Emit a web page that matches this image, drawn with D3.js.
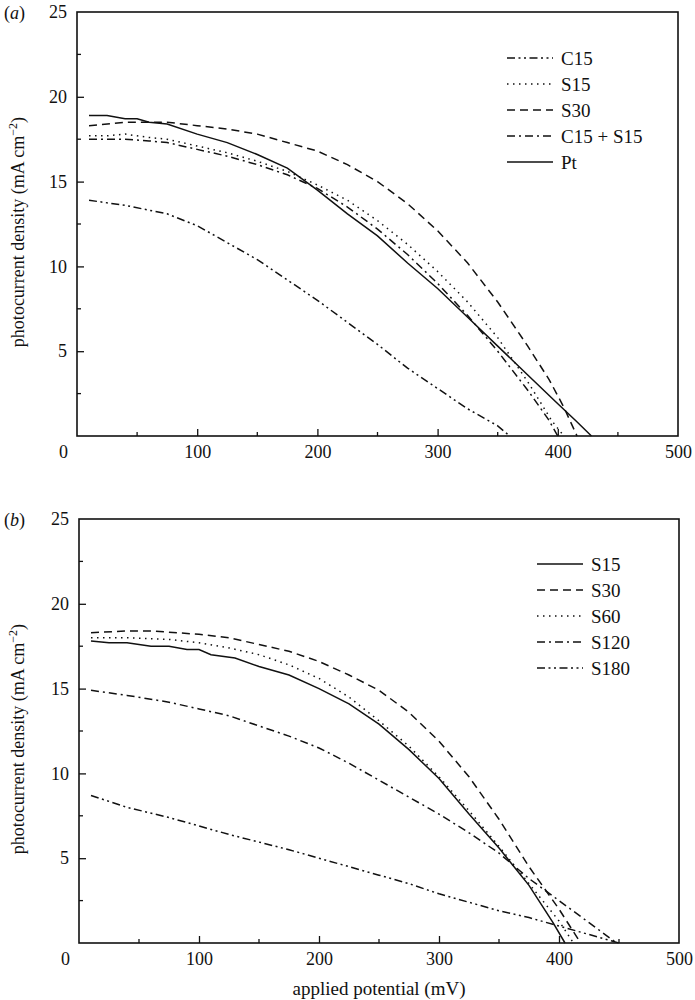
<!DOCTYPE html>
<html><head><meta charset="utf-8">
<script src="https://cdn.jsdelivr.net/npm/d3@7"></script>
<style>body{margin:0;background:#fff}svg{display:block}svg text{font-family:"Liberation Serif","Times New Roman",Times,serif !important;fill:#111}</style>
</head><body><svg id="c" width="695" height="1000" style="font-family:'Liberation Serif',serif"></svg>
<script>
// ---- data ----
const xTicks = [0, 100, 200, 300, 400, 500];
const yTicks = [5, 10, 15, 20, 25];
const namesA = ["C15", "S15", "S30", "C15 + S15", "Pt"];
const C15_x = [10, 40, 75, 100, 125, 150, 175, 200, 225, 250, 275, 300, 325, 350, 360];
const C15_y = [13.9, 13.6, 13.1, 12.4, 11.4, 10.4, 9.2, 8.0, 6.7, 5.4, 4.0, 2.8, 1.6, 0.6, 0];
const S15a_x = [10, 25, 40, 60, 75, 100, 125, 150, 175, 200, 225, 250, 275, 300, 325, 350, 375, 395, 405];
const S15a_y = [17.7, 17.7, 17.8, 17.6, 17.5, 17.1, 16.7, 16.2, 15.6, 14.8, 13.9, 12.7, 11.3, 9.7, 7.9, 5.8, 3.2, 0.9, 0];
const S30a_x = [10, 40, 75, 100, 125, 150, 175, 200, 225, 250, 275, 300, 325, 350, 375, 393, 405, 416];
const S30a_y = [18.3, 18.5, 18.5, 18.3, 18.1, 17.8, 17.3, 16.8, 16.0, 15.0, 13.7, 12.1, 10.2, 7.9, 5.3, 3.3, 1.7, 0];
const CS_x = [10, 25, 40, 60, 75, 100, 125, 150, 175, 200, 225, 250, 275, 300, 325, 350, 375, 392, 400];
const CS_y = [17.5, 17.5, 17.5, 17.4, 17.3, 16.9, 16.5, 16.0, 15.4, 14.6, 13.5, 12.2, 10.7, 9.0, 7.1, 5.0, 2.7, 1.0, 0];
const Pt_x = [10, 25, 40, 50, 60, 75, 100, 125, 150, 175, 200, 225, 250, 275, 300, 325, 350, 375, 400, 415, 428];
const Pt_y = [18.9, 18.9, 18.7, 18.7, 18.5, 18.4, 17.8, 17.3, 16.6, 15.8, 14.5, 13.1, 11.8, 10.2, 8.7, 7.0, 5.3, 3.6, 1.9, 0.9, 0];

const namesB = ["S15", "S30", "S60", "S120", "S180"];
const S15b_x = [10, 25, 40, 60, 75, 90, 100, 110, 130, 150, 175, 200, 225, 250, 275, 300, 325, 350, 375, 395, 405];
const S15b_y = [17.8, 17.7, 17.7, 17.5, 17.5, 17.3, 17.3, 17.0, 16.8, 16.3, 15.8, 15.0, 14.1, 12.9, 11.4, 9.7, 7.6, 5.6, 3.4, 1.2, 0];
const S30b_x = [10, 40, 60, 100, 125, 150, 175, 200, 225, 250, 275, 300, 325, 350, 375, 400, 418];
const S30b_y = [18.3, 18.4, 18.4, 18.2, 18.0, 17.6, 17.2, 16.6, 15.8, 14.9, 13.6, 11.9, 9.8, 7.3, 4.5, 2.0, 0];
const S60_x = [10, 40, 75, 100, 125, 150, 175, 200, 225, 250, 275, 300, 325, 350, 375, 400, 412];
const S60_y = [18.0, 18.0, 17.9, 17.7, 17.4, 17.0, 16.4, 15.6, 14.5, 13.1, 11.6, 9.8, 7.8, 5.7, 3.5, 1.3, 0];
const S120_x = [10, 40, 75, 100, 125, 150, 175, 200, 225, 250, 275, 300, 325, 350, 375, 400, 425, 448];
const S120_y = [14.9, 14.6, 14.2, 13.8, 13.4, 12.8, 12.2, 11.5, 10.6, 9.6, 8.6, 7.6, 6.5, 5.3, 3.8, 2.5, 1.2, 0];
const S180_x = [10, 40, 75, 100, 125, 150, 175, 200, 225, 250, 275, 300, 325, 350, 375, 400, 425, 450];
const S180_y = [8.7, 8.0, 7.4, 6.9, 6.4, 5.95, 5.5, 5.0, 4.5, 4.0, 3.5, 2.9, 2.4, 1.9, 1.5, 1.0, 0.5, 0];

const FONT = "'Liberation Serif', 'Times New Roman', serif";
const dashes = {solid: null, dash: "8,5", dot: "1.5,4.5", dashdot: "8,4,2,4", dashdotdot: "8,3.5,2,3.5,2,3.5"};

const panels = [
  {label: "a", top: 12, bottom: 436, left: 77, right: 678, legX: 507, legY: 58, xTitle: false,
   series: [
     {name: namesA[0], x: C15_x, y: C15_y, style: "dashdotdot"},
     {name: namesA[1], x: S15a_x, y: S15a_y, style: "dot"},
     {name: namesA[2], x: S30a_x, y: S30a_y, style: "dash"},
     {name: namesA[3], x: CS_x, y: CS_y, style: "dashdot"},
     {name: namesA[4], x: Pt_x, y: Pt_y, style: "solid"}]},
  {label: "b", top: 519, bottom: 943, left: 79, right: 679, legX: 537, legY: 564, xTitle: true,
   series: [
     {name: namesB[0], x: S15b_x, y: S15b_y, style: "solid"},
     {name: namesB[1], x: S30b_x, y: S30b_y, style: "dash"},
     {name: namesB[2], x: S60_x, y: S60_y, style: "dot"},
     {name: namesB[3], x: S120_x, y: S120_y, style: "dashdot"},
     {name: namesB[4], x: S180_x, y: S180_y, style: "dashdotdot"}]}
];

const svg = d3.select("#c");
panels.forEach(p => {
  const x = d3.scaleLinear().domain([0, 500]).range([p.left, p.right]);
  const y = d3.scaleLinear().domain([0, 25]).range([p.bottom, p.top]);
  const g = svg.append("g");
  const xMinor = d3.range(50, 500, 100);
  const yMinor = d3.range(2.5, 25, 5);
  g.selectAll(".xm").data(xMinor).join("line").attr("x1", d => x(d)).attr("x2", d => x(d))
    .attr("y1", p.bottom).attr("y2", p.bottom - 4).attr("stroke", "#111").attr("stroke-width", 1.3);
  g.selectAll(".ym").data(yMinor).join("line").attr("y1", d => y(d)).attr("y2", d => y(d))
    .attr("x1", p.left).attr("x2", p.left + 4).attr("stroke", "#111").attr("stroke-width", 1.3);
  const xa = g.append("g").attr("transform", `translate(0,${p.bottom})`)
    .call(d3.axisBottom(x).tickValues(xTicks).tickSizeInner(-7).tickSizeOuter(0).tickFormat(d3.format("d")));
  xa.attr("font-family", FONT);
  xa.select(".domain").remove();
  xa.selectAll("line").attr("stroke", "#111").attr("stroke-width", 1.3);
  xa.selectAll("text").attr("y", 9).attr("font-size", 18).attr("dy", "0.71em").style("font-family", FONT)
    .attr("dx", d => d === 0 ? -14 : 0);
  xa.selectAll(".tick").filter(d => d === 0 || d === 500).select("line").remove();
  const ya = g.append("g").attr("transform", `translate(${p.left},0)`)
    .call(d3.axisLeft(y).tickValues(yTicks).tickSizeInner(-7).tickSizeOuter(0));
  ya.attr("font-family", FONT);
  ya.select(".domain").remove();
  ya.selectAll("line").attr("stroke", "#111").attr("stroke-width", 1.3);
  ya.selectAll("text").attr("x", -10).attr("font-size", 18).style("font-family", FONT);
  ya.selectAll(".tick").filter(d => d === 25).select("line").remove();
  g.append("rect").attr("x", p.left).attr("y", p.top).attr("width", p.right - p.left)
    .attr("height", p.bottom - p.top).attr("fill", "none").attr("stroke", "#111").attr("stroke-width", 1.6);
  const line = d3.line().x(d => x(d[0])).y(d => y(d[1]));
  p.series.forEach((s, i) => {
    const pts = s.x.map((v, j) => [v, s.y[j]]);
    g.append("path").datum(pts).attr("d", line).attr("fill", "none").attr("stroke", "#111")
      .attr("stroke-width", 1.5).attr("stroke-dasharray", dashes[s.style]);
    const ly = p.legY + i * 26;
    g.append("line").attr("x1", p.legX).attr("x2", p.legX + 46).attr("y1", ly).attr("y2", ly)
      .attr("stroke", "#111").attr("stroke-width", 1.5).attr("stroke-dasharray", dashes[s.style]);
    g.append("text").attr("x", p.legX + 54).attr("y", ly).attr("dy", "0.35em").attr("font-size", 19)
      .style("font-family", FONT).text(s.name);
  });
  g.append("text").attr("x", 4).attr("y", p.top + 1).attr("dy", "0.35em").attr("font-size", 18)
    .style("font-family", FONT)
    .html(`(<tspan font-style="italic">${p.label}</tspan>)`);
  g.append("text").attr("transform", `translate(24,${(p.top + p.bottom) / 2 + 8}) rotate(-90)`)
    .attr("text-anchor", "middle").attr("font-size", 18).style("font-family", FONT)
    .html('photocurrent density (mA cm<tspan dy="-7" font-size="12">\u22122</tspan><tspan dy="7">)</tspan>');
  if (p.xTitle) {
    g.append("text").attr("x", (p.left + p.right) / 2).attr("y", p.bottom + 52).attr("text-anchor", "middle")
      .attr("font-size", 19).style("font-family", FONT).text("applied potential (mV)");
  }
});
</script></body></html>
